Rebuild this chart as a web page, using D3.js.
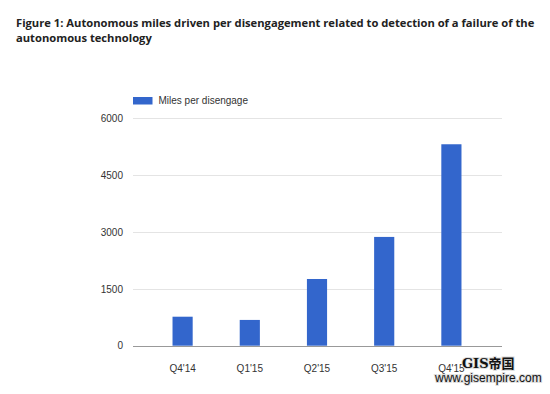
<!DOCTYPE html>
<html>
<head>
<meta charset="utf-8">
<script src="https://cdn.jsdelivr.net/npm/d3@7"></script>
<style>
  body { margin: 0; background: #fff; }
  svg { display: block; }
</style>
</head>
<body>
<div id="chart"></div>
<script>
// data
const quarters = ["Q4'14", "Q1'15", "Q2'15", "Q3'15", "Q4'15"];
const milesPerDisengage = [765, 680, 1760, 2870, 5315];
const yTicks = [0, 1500, 3000, 4500, 6000];
const titleLines = [
  "Figure 1: Autonomous miles driven per disengagement related to detection of a failure of the",
  "autonomous technology"
];
const seriesName = "Miles per disengage";

const width = 550, height = 394;
const plot = { left: 133, right: 502, top: 118.3, bottom: 345.7 };

const svg = d3.select("#chart").append("svg")
  .attr("width", width)
  .attr("height", height);

// title
svg.append("g").selectAll("text").data(titleLines).enter().append("text")
  .attr("x", 16)
  .attr("y", (d, i) => 27.3 + i * 15)
  .attr("font-family", "'Open Sans', sans-serif")
  .attr("font-weight", "bold")
  .attr("font-size", 11.2)
  .attr("fill", "#222")
  .text(d => d);

const y = d3.scaleLinear().domain([0, 6000]).range([plot.bottom, plot.top]);
const x = d3.scaleBand().domain(quarters).range([149, 485])
  .paddingInner(0.7).paddingOuter(0.35);

// gridlines
svg.append("g").selectAll("line").data(yTicks.filter(t => t > 0)).enter().append("line")
  .attr("x1", plot.left).attr("x2", plot.right)
  .attr("y1", d => Math.round(y(d)) + 0.5).attr("y2", d => Math.round(y(d)) + 0.5)
  .attr("stroke", "#e4e4e4");

// y labels
const yAxis = svg.append("g")
  .attr("transform", `translate(${plot.left - 10},0)`)
  .call(d3.axisLeft(y).tickValues(yTicks).tickSize(0).tickPadding(0).tickFormat(d3.format("d")));
yAxis.select(".domain").remove();
yAxis.selectAll("text")
  .attr("font-family", "'Liberation Sans', Arial, sans-serif")
  .attr("font-size", 10)
  .attr("fill", "#333");

// bars
svg.append("g").selectAll("rect").data(quarters).enter().append("rect")
  .attr("x", d => x(d))
  .attr("width", x.bandwidth())
  .attr("y", (d, i) => y(milesPerDisengage[i]))
  .attr("height", (d, i) => plot.bottom - y(milesPerDisengage[i]))
  .attr("fill", "#3366cc");

// baseline
svg.append("line")
  .attr("x1", plot.left).attr("x2", plot.right)
  .attr("y1", Math.round(y(0)) + 0.5).attr("y2", Math.round(y(0)) + 0.5)
  .attr("stroke", "#999");

// x labels
const xAxis = svg.append("g")
  .attr("transform", `translate(0,${plot.bottom})`)
  .call(d3.axisBottom(x).tickSize(0).tickPadding(19));
xAxis.select(".domain").remove();
xAxis.selectAll("text")
  .attr("font-family", "'Liberation Sans', Arial, sans-serif")
  .attr("font-size", 10)
  .attr("fill", "#333");

// legend
const legend = svg.append("g").attr("transform", "translate(133,97)");
legend.append("rect").attr("width", 19.5).attr("height", 7.5).attr("fill", "#3366cc");
legend.append("text")
  .attr("x", 25.5).attr("y", 6.5)
  .attr("font-family", "'Liberation Sans', Arial, sans-serif")
  .attr("font-size", 10)
  .attr("fill", "#333")
  .text(seriesName);

// watermark (sits over the last label in the original too)
const wm = svg.append("g");
wm.append("text")
  .attr("x", 462).attr("y", 368)
  .attr("font-family", "'DejaVu Serif', 'Noto Sans CJK SC', serif")
  .attr("font-weight", "bold")
  .attr("font-size", 13)
  .attr("fill", "#111")
  .attr("stroke", "#ddd").attr("stroke-width", 2).attr("paint-order", "stroke")
  .text("GIS帝国");
wm.append("text")
  .attr("x", 435).attr("y", 381.5)
  .attr("font-family", "'Liberation Sans', Arial, sans-serif")
  .attr("font-size", 12)
  .attr("fill", "#111")
  .attr("stroke", "#ddd").attr("stroke-width", 2).attr("paint-order", "stroke")
  .text("www.gisempire.com");
</script>
</body>
</html>
